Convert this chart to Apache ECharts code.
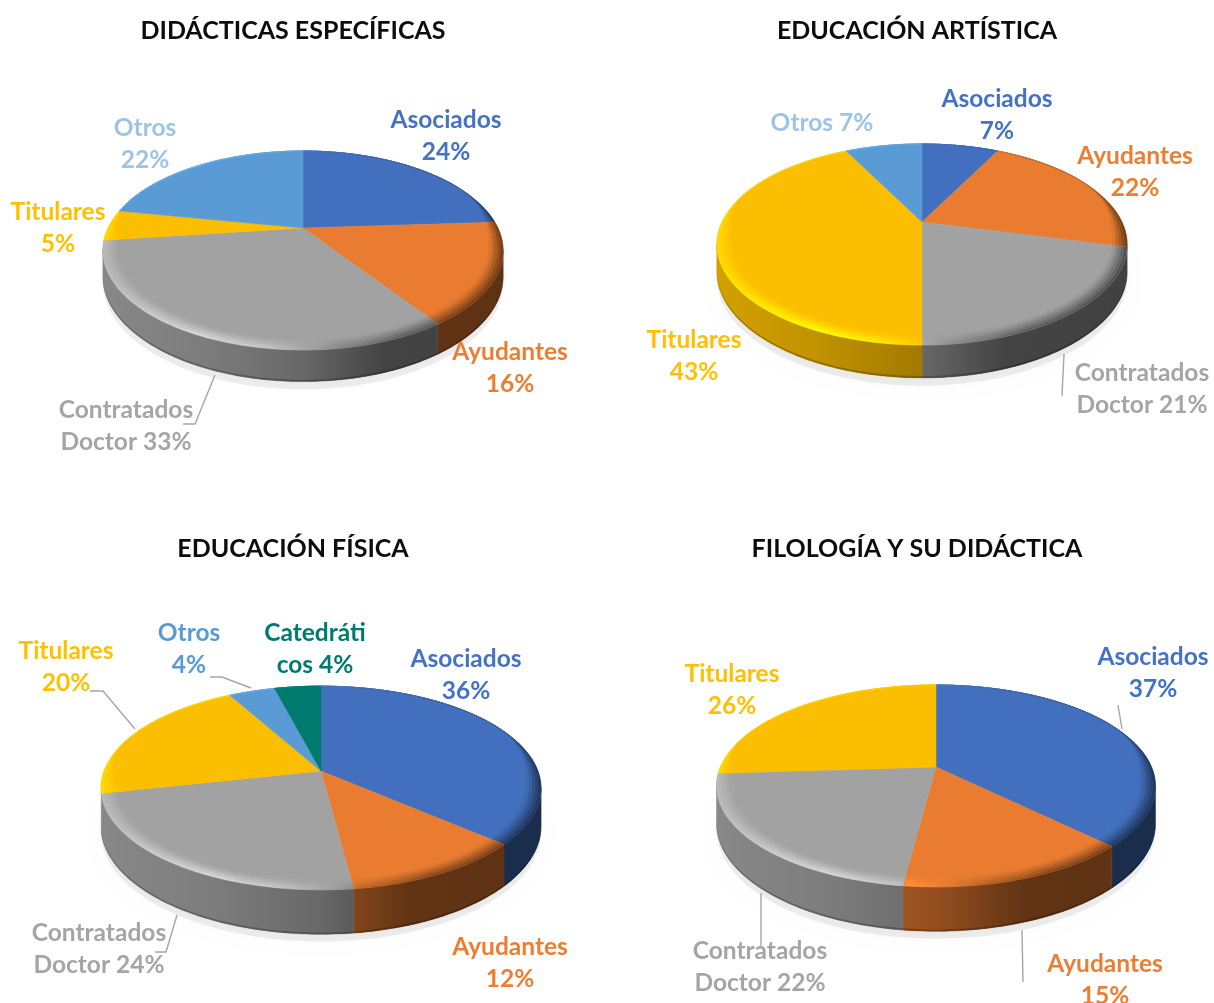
<!DOCTYPE html>
<html><head><meta charset="utf-8">
<style>html,body{margin:0;padding:0;background:#fff}#c{width:1214px;height:1003px}</style>
<script src="https://cdn.jsdelivr.net/npm/echarts@6/dist/echarts.min.js"></script>
</head><body><div id="c"></div>
<script>
// ---- data ----
const titles = ['DIDÁCTICAS ESPECÍFICAS','EDUCACIÓN ARTÍSTICA','EDUCACIÓN FÍSICA','FILOLOGÍA Y SU DIDÁCTICA'];
const didacticasCats = ['Asociados','Ayudantes','Contratados Doctor','Titulares','Otros'];
const didacticasVals = [24,16.5,32.5,5,22];
const artisticaCats = ['Asociados','Ayudantes','Contratados Doctor','Titulares','Otros'];
const artisticaVals = [7.5,21.5,21,42.5,7.5];
const fisicaCats = ['Asociados','Ayudantes','Contratados Doctor','Titulares','Otros','Catedráticos'];
const fisicaVals = [36.5,11.5,23.5,20.5,4,4];
const filologiaCats = ['Asociados','Ayudantes','Contratados Doctor','Titulares'];
const filologiaVals = [37.5,14.5,22,26];
const didacticasLabels = ['Asociados\n24%','Ayudantes\n16%','Contratados\nDoctor 33%','Titulares\n5%','Otros\n22%'];
const artisticaLabels = ['Asociados\n7%','Ayudantes\n22%','Contratados\nDoctor 21%','Titulares\n43%','Otros 7%'];
const fisicaLabels = ['Asociados\n36%','Ayudantes\n12%','Contratados\nDoctor 24%','Titulares\n20%','Otros\n4%','Catedráti\ncos 4%'];
const filologiaLabels = ['Asociados\n37%','Ayudantes\n15%','Contratados\nDoctor 22%','Titulares\n26%'];

// ---- style and layout ----
const FACE = {'Asociados':[66,112,191],'Ayudantes':[233,124,48],'Contratados Doctor':[162,162,162],'Titulares':[251,190,0],'Otros':[91,155,213],'Catedráticos':[0,121,111]};
const TEXTC = {'Asociados':'#4472C4','Ayudantes':'#ED7D31','Contratados Doctor':'#A5A5A5','Titulares':'#FFC000','Otros':'#9DC3E6','Catedráticos':'#007B70'};
const FONT = 'Lato, Carlito, sans-serif';
const pies = [
 {cats:didacticasCats,vals:didacticasVals,labels:didacticasLabels,cx:303,cy:228,R:195,h:94.4,k:.226,z:24.5,title:[293,18],
  pos:[[446,136],[510,368],[126,426],[58,228],[145,144]],
  leaders:[[[215,375],[195,424],[183,424]]]},
 {cats:artisticaCats,vals:artisticaVals,labels:artisticaLabels,cx:922,cy:222,R:200,h:95.5,k:.224,z:25.5,title:[917,18],
  pos:[[997,115],[1135,172],[1142,389],[694,356],[822,123]],
  leaders:[[[1064,354],[1062,396]]]},
 {cats:fisicaCats,vals:fisicaVals,labels:fisicaLabels,cx:321,cy:771,R:217,h:99,k:.167,z:37,title:[293,536],
  pos:[[466,675],[510,963],[99,949],[66,667],[189,649],[315,649]],otrosColor:'#5B9BD5',
  leaders:[[[251,688],[222,677],[210,677]],[[135,729],[103,691],[90,691]],[[177,915],[166,952],[155,952]]]},
 {cats:filologiaCats,vals:filologiaVals,labels:filologiaLabels,cx:936,cy:767,R:215.6,h:97.4,k:.188,z:36,title:[917,536],
  pos:[[1153,673],[1105,980],[760,967],[732,690]],
  leaders:[[[1118,705],[1122,729]],[[1022,930],[1023,982]],[[761,893],[761,947]]]}
];
const WALL = [[0,.84],[.25,.77],[.5,.64],[.7,.42],[1,.40]];
const BEVEL = [[0,.15],[.12,.28],[.25,.36],[.4,.25],[.5,.05],[.6,-.2],[.75,-.45],[1,-.55]];
const RINGS = [[1,.986,.9],[.986,.972,.7],[.972,.958,.5],[.958,.944,.3],[.944,.93,.1]];
const D = Math.PI/180;

const mul = (c,m)=>'rgb('+c.map(v=>Math.min(255,Math.round(v*m))).join(',')+')';
const smooth = (a,b,x)=>{const u=Math.min(1,Math.max(0,(x-a)/(b-a)));return u*u*(3-2*u);};
const taper = t=>smooth(58*D,102*D,t)*(1-smooth(258*D,288*D,t));
function pt(p,t,r,dz){
  const w=1+p.k*r*Math.cos(t);
  return [p.cx+p.R*r*Math.sin(t)/w, p.cy-p.h*r*Math.cos(t)/w+(dz||0)/w];
}
function arc(p,a,b,rf,dz){
  const n=Math.max(2,Math.ceil((b-a)/0.02)),out=[];
  for(let i=0;i<=n;i++){const t=a+(b-a)*i/n;out.push(pt(p,t,typeof rf==='function'?rf(t):rf,dz));}
  return out;
}
function grad(p,stops,fn){
  const w=p.R/Math.sqrt(1-p.k*p.k);
  return {type:'linear',x:p.cx-w,y:0,x2:p.cx+w,y2:0,global:true,colorStops:stops.map(s=>({offset:s[0],color:fn(s[1])}))};
}
function range(p,i){
  const tot=p.vals.reduce((a,b)=>a+b,0);
  let s=0;for(let j=0;j<i;j++)s+=p.vals[j];
  return [s/tot*2*Math.PI,(s+p.vals[i])/tot*2*Math.PI];
}
function wallItem(p){return function(params,api){
  const i=params.dataIndex,[a0,b0]=range(p,i),col=FACE[p.cats[i]],ch=[];
  if(i===0){
    const ol=arc(p,0,2*Math.PI,1,p.z+6);
    ch.push({type:'polygon',shape:{points:ol},style:{fill:'rgba(0,0,0,.07)',shadowBlur:14,shadowColor:'rgba(0,0,0,.16)'}});
  }
  const lo=Math.acos(-p.k),hi=2*Math.PI-lo,a=Math.max(a0,lo),b=Math.min(b0,hi);
  if(b-a>0.07){
    const poly=arc(p,a,b,1,-1).concat(arc(p,a,b,1,p.z).reverse());
    const f=grad(p,WALL,m=>mul(col,m));
    ch.push({type:'polygon',shape:{points:poly},style:{fill:f,stroke:f,lineWidth:.5}});
    const edge=arc(p,a,b,1,p.z-1.5).concat(arc(p,a,b,1,p.z).reverse());
    ch.push({type:'polygon',shape:{points:edge},style:{fill:grad(p,WALL,m=>mul(col,m*.78))}});
  }
  return {type:'group',children:ch};
};}
function topItem(p){return function(params,api){
  const i=params.dataIndex,[a,b]=range(p,i),col=FACE[p.cats[i]],base=mul(col,1);
  void api.value(0);
  const ch=[{type:'polygon',shape:{points:[[p.cx,p.cy]].concat(arc(p,a,b,1,0))},style:{fill:base,stroke:base,lineWidth:.5}}];
  RINGS.forEach(rg=>{
    const f=grad(p,BEVEL,d=>mul(col,1+d*rg[2]));
    const r0=t=>1-(1-rg[0])*taper(t), r1=t=>1-(1-rg[1])*taper(t);
    ch.push({type:'polygon',shape:{points:arc(p,a,b,r0,0).concat(arc(p,a,b,r1,0).reverse())},style:{fill:f,stroke:f,lineWidth:.3}});
  });
  return {type:'group',children:ch};
};}
function labelItem(p){return function(params){
  const i=params.dataIndex,c=p.cats[i],ch=[];
  const q=p.pos[i];
  ch.push({type:'text',style:{text:p.labels[i],x:q[0],y:q[1],align:'center',verticalAlign:'middle',
    fill:(c==='Otros'&&p.otrosColor)||TEXTC[c],fontFamily:FONT,fontWeight:'bold',fontSize:24.5,lineHeight:32.5}});
  if(i===0)p.leaders.forEach(l=>ch.push({type:'polyline',shape:{points:l},style:{fill:'none',stroke:'#A6A6A6',lineWidth:1.4}}));
  return {type:'group',children:ch};
};}

const series=[];
pies.forEach(p=>{
  [wallItem,topItem,labelItem].forEach(fn=>series.push({type:'custom',coordinateSystem:'none',silent:true,animation:false,
    name:p.cats.join(),data:p.vals,renderItem:fn(p)}));
});
const chart=echarts.init(document.getElementById('c'),null,{renderer:'canvas'});
chart.setOption({
  backgroundColor:'#fff',animation:false,tooltip:{show:false},legend:{show:false},
  title:titles.map((t,i)=>({text:t,left:pies[i].title[0],top:pies[i].title[1],textAlign:'center',padding:0,
    textStyle:{fontFamily:FONT,fontWeight:'bold',fontSize:25,color:'#0d0d0d'}})),
  series
});
</script></body></html>
